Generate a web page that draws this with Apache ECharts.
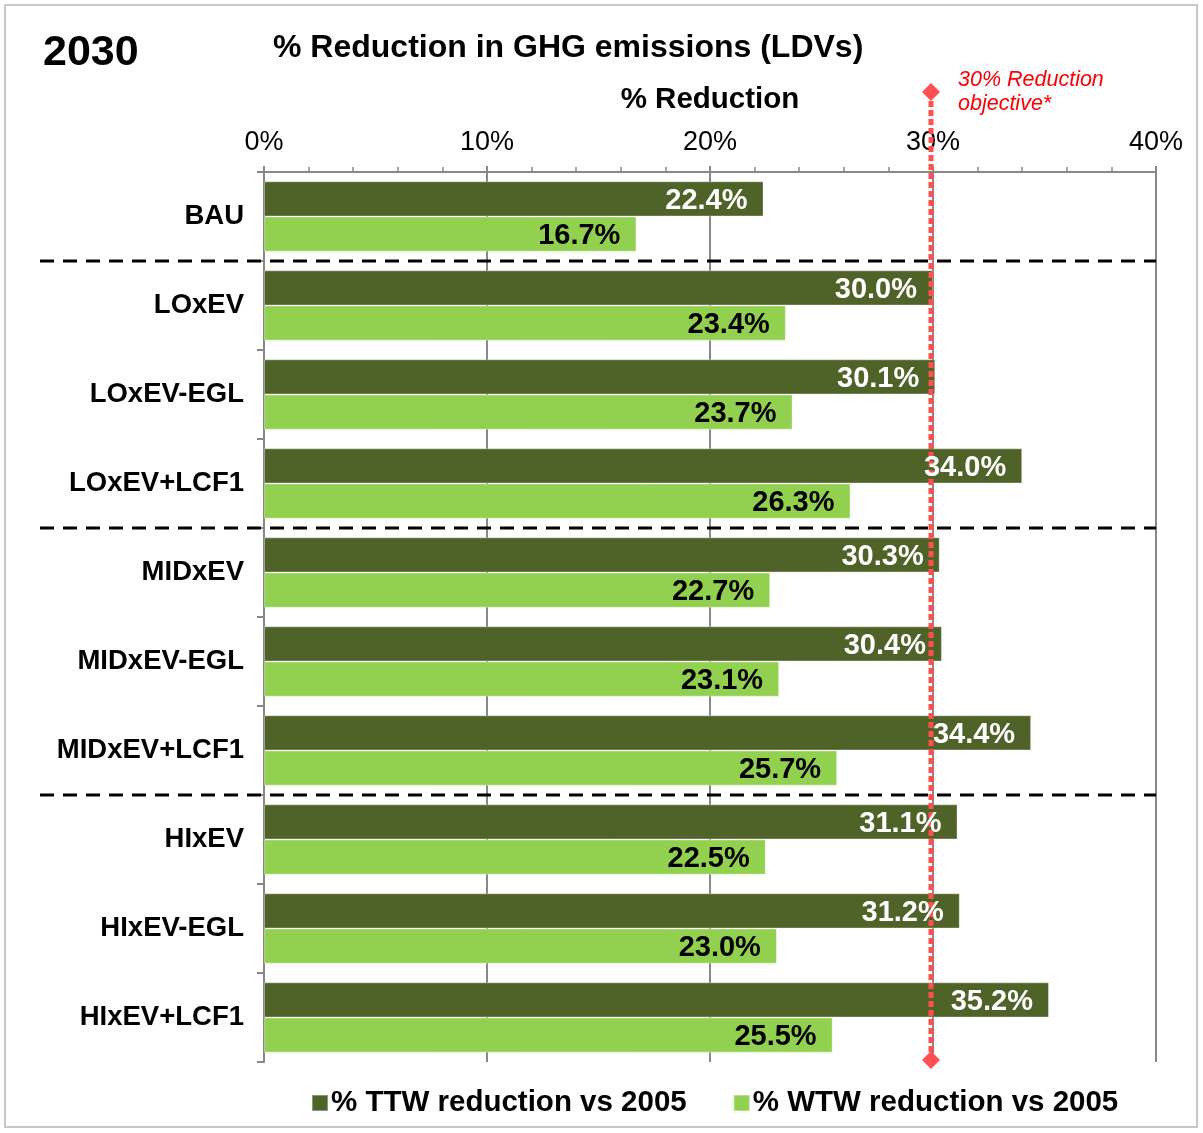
<!DOCTYPE html>
<html>
<head>
<meta charset="utf-8">
<script src="https://cdn.jsdelivr.net/npm/echarts@6/dist/echarts.min.js"></script>
<style>
  html, body { margin: 0; padding: 0; background: #fff; }
  #chart { width: 1203px; height: 1133px; }
</style>
</head>
<body>
<div id="chart"></div>
<script type="text/javascript">
var scenarios = ['BAU', 'LOxEV', 'LOxEV-EGL', 'LOxEV+LCF1', 'MIDxEV', 'MIDxEV-EGL', 'MIDxEV+LCF1', 'HIxEV', 'HIxEV-EGL', 'HIxEV+LCF1'];
var ttw = [22.4, 30.0, 30.1, 34.0, 30.3, 30.4, 34.4, 31.1, 31.2, 35.2];
var wtw = [16.7, 23.4, 23.7, 26.3, 22.7, 23.1, 25.7, 22.5, 23.0, 25.5];
var groupEnds = [0, 3, 6];   // dashed separator after these rows
var objective = 30;

var font = 'Liberation Sans, Arial, sans-serif';
var myChart = echarts.init(document.getElementById('chart'));

function pct(p) { return p.value.toFixed(1) + '%'; }

var option = {
    animation: false,
    textStyle: { fontFamily: font },
    title: [
        { text: '2030', left: 38, top: 27, textStyle: { fontSize: 43, fontWeight: 'bold', color: '#000', fontFamily: font } },
        { text: '% Reduction in GHG emissions (LDVs)', left: 268, top: 27, textStyle: { fontSize: 32, fontWeight: 'bold', color: '#000', fontFamily: font } }
    ],
    legend: {
        left: 306,
        top: 1083,
        itemWidth: 16,
        itemHeight: 16,
        itemGap: 46,
        icon: 'rect',
        textStyle: { fontSize: 29.5, fontWeight: 'bold', color: '#000', fontFamily: font, padding: [0, 0, 0, -2] },
        data: ['% TTW reduction vs 2005', '% WTW reduction vs 2005']
    },
    grid: { left: 264, right: 47, top: 172, bottom: 71 },
    xAxis: {
        type: 'value',
        position: 'top',
        min: 0, max: 40, interval: 10,
        name: '% Reduction',
        nameLocation: 'middle',
        nameGap: 57,
        nameTextStyle: { fontSize: 29.5, fontWeight: 'bold', color: '#000', fontFamily: font },
        axisLine: { show: true, lineStyle: { color: '#888', width: 2 } },
        axisTick: { show: true, length: 6, lineStyle: { color: '#888', width: 2 } },
        minorTick: { show: true, splitNumber: 5, length: 5, lineStyle: { color: '#888', width: 1.5 } },
        axisLabel: { fontSize: 27, color: '#000', margin: 16, formatter: '{value}%', fontFamily: font },
        splitLine: { show: true, lineStyle: { color: '#888', width: 2 } }
    },
    yAxis: {
        type: 'category',
        inverse: true,
        data: scenarios,
        axisLine: { lineStyle: { color: '#888', width: 2 } },
        axisTick: { show: true, length: 7, lineStyle: { color: '#888', width: 2 } },
        axisLabel: { fontSize: 27.5, fontWeight: 'bold', color: '#000', margin: 20, fontFamily: font }
    },
    series: [
        {
            name: '% TTW reduction vs 2005',
            type: 'bar',
            data: ttw,
            barGap: '0%',
            barCategoryGap: '21%',
            itemStyle: { color: '#4F6228', borderColor: 'rgba(255,255,255,0.35)', borderWidth: 1 },
            label: { show: true, position: 'insideRight', distance: 16, offset: [0, 2], formatter: pct,
                     fontSize: 29, fontWeight: 'bold', color: '#fff', fontFamily: font }
        },
        {
            name: '% WTW reduction vs 2005',
            type: 'bar',
            data: wtw,
            barGap: '0%',
            barCategoryGap: '21%',
            itemStyle: { color: '#92D050', borderColor: 'rgba(255,255,255,0.35)', borderWidth: 1 },
            label: { show: true, position: 'insideRight', distance: 16, offset: [0, 2], formatter: pct,
                     fontSize: 29, fontWeight: 'bold', color: '#000', fontFamily: font }
        }
    ]
};
myChart.setOption(option);

// separators, objective line and frame, placed through the axes
var gridRight = myChart.convertToPixel({ xAxisIndex: 0 }, 40);
var gx = myChart.convertToPixel({ xAxisIndex: 0 }, objective) - 2;
var els = [];
els.push({ type: 'rect', shape: { x: 5, y: 5, width: 1192, height: 1122 },
           style: { fill: 'none', stroke: '#c8c8c8', lineWidth: 2 }, z: 100 });
groupEnds.forEach(function (i) {
    var y = (myChart.convertToPixel({ yAxisIndex: 0 }, i) + myChart.convertToPixel({ yAxisIndex: 0 }, i + 1)) / 2;
    els.push({ type: 'line', shape: { x1: 40, y1: y, x2: gridRight, y2: y },
               style: { stroke: '#000', lineWidth: 3, lineDash: [14, 9] }, z: 100 });
});
// objective line sits over the bars but under their value labels
els.push({ type: 'line', shape: { x1: gx, y1: 92, x2: gx, y2: 1060 },
           style: { stroke: '#FF4F4F', lineWidth: 5, lineDash: [6, 3] }, z: 2, z2: 1.9 });
[92, 1060].forEach(function (y) {
    els.push({ type: 'polygon', shape: { points: [[gx, y - 9], [gx + 9, y], [gx, y + 9], [gx - 9, y]] },
               style: { fill: '#FF4F4F' }, z: 102 });
});
els.push({ type: 'text', left: gx + 27, top: 68,
           style: { text: '30% Reduction\nobjective*', fill: '#FF0000', fontSize: 21.5, fontStyle: 'italic',
                    fontFamily: font, lineHeight: 24 }, z: 102 });
myChart.setOption({ graphic: els });

window.addEventListener('resize', function () {
    myChart.resize();
});
</script>
</body>
</html>
